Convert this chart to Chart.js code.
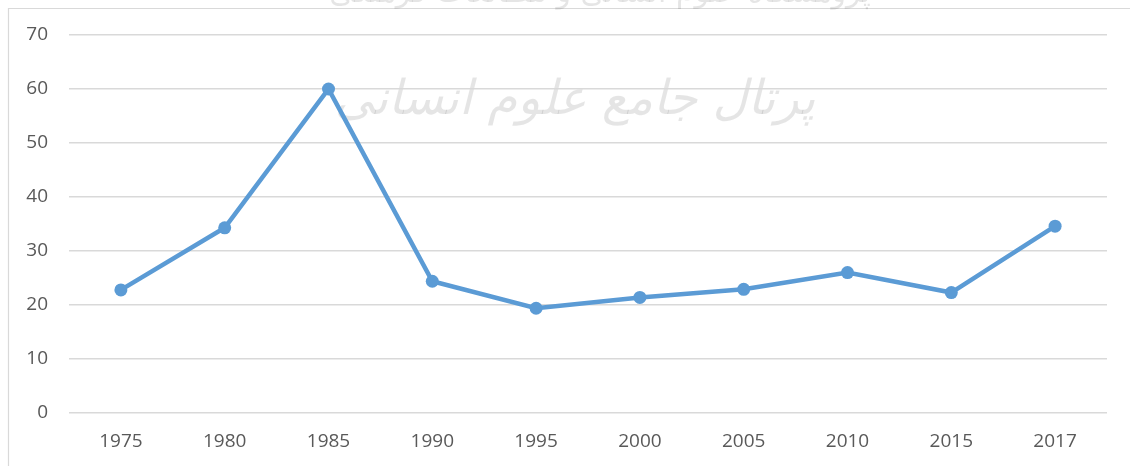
<!DOCTYPE html>
<html>
<head>
<meta charset="utf-8">
<script src="https://cdn.jsdelivr.net/npm/chart.js@4/dist/chart.umd.min.js"></script>
<style>
html,body{margin:0;padding:0;background:#fff;}
#wrap{width:1130px;height:466px;position:relative;}
</style>
</head>
<body>
<div id="wrap"><canvas id="c" width="1130" height="466"></canvas></div>
<script>
const years = ["1975","1980","1985","1990","1995","2000","2005","2010","2015","2017"];
const values = [22.8, 34.3, 60.0, 24.4, 19.4, 21.4, 22.9, 26.0, 22.3, 34.6];
const yMin = 0, yMax = 70, yStep = 10;
const watermarkMain = "پرتال جامع علوم انسانی";
const watermarkTop = "پژوهشگاه علوم انسانی و مطالعات فرهنگی";

const framePlugin = {
  id: 'frame',
  beforeDraw(chart) {
    const ctx = chart.ctx;
    ctx.save();
    ctx.fillStyle = '#fff';
    ctx.fillRect(0, 0, chart.width, chart.height);
    ctx.strokeStyle = '#d9d9d9';
    ctx.lineWidth = 1.2;
    ctx.beginPath();
    ctx.moveTo(8.5, chart.height + 5);
    ctx.lineTo(8.5, 8.5);
    ctx.lineTo(chart.width + 5, 8.5);
    ctx.stroke();
    // faint watermark
    ctx.fillStyle = 'rgba(0,0,0,0.10)';
    ctx.textAlign = 'center';
    ctx.textBaseline = 'middle';
    ctx.font = 'italic 48px "DejaVu Sans"';
    ctx.fillText(watermarkMain, 575, 102);
    ctx.font = '30px "DejaVu Sans"';
    ctx.fillText(watermarkTop, 600, -6);
    ctx.restore();
  }
};

new Chart(document.getElementById('c'), {
  type: 'line',
  data: {
    labels: years,
    datasets: [{
      data: values,
      borderColor: '#5b9bd5',
      backgroundColor: '#5b9bd5',
      borderWidth: 4.5,
      pointRadius: 6.5,
      pointHoverRadius: 6.5,
      pointBackgroundColor: '#5b9bd5',
      pointBorderColor: '#5b9bd5',
      pointBorderWidth: 0,
      tension: 0,
      fill: false
    }]
  },
  options: {
    responsive: false,
    animation: false,
    events: [],
    layout: { padding: { left: 0, right: 23, top: 35, bottom: 0 } },
    plugins: { legend: { display: false }, tooltip: { enabled: false }, title: { display: false } },
    scales: {
      x: {
        offset: true,
        grid: { display: false, drawTicks: false },
        border: { display: false },
        ticks: { color: '#595959', font: { family: '"Open Sans"', size: 19 }, padding: 17, maxRotation: 0, autoSkip: false },
        afterFit(s) { s.height = 53; }
      },
      y: {
        min: yMin, max: yMax,
        grid: { color: '#d9d9d9', lineWidth: 1.5, drawTicks: false },
        border: { display: false },
        ticks: { stepSize: yStep, color: '#595959', font: { family: '"Open Sans"', size: 19 }, padding: 21 },
        afterFit(s) { s.width = 69; }
      }
    }
  },
  plugins: [framePlugin]
});
</script>
</body>
</html>
